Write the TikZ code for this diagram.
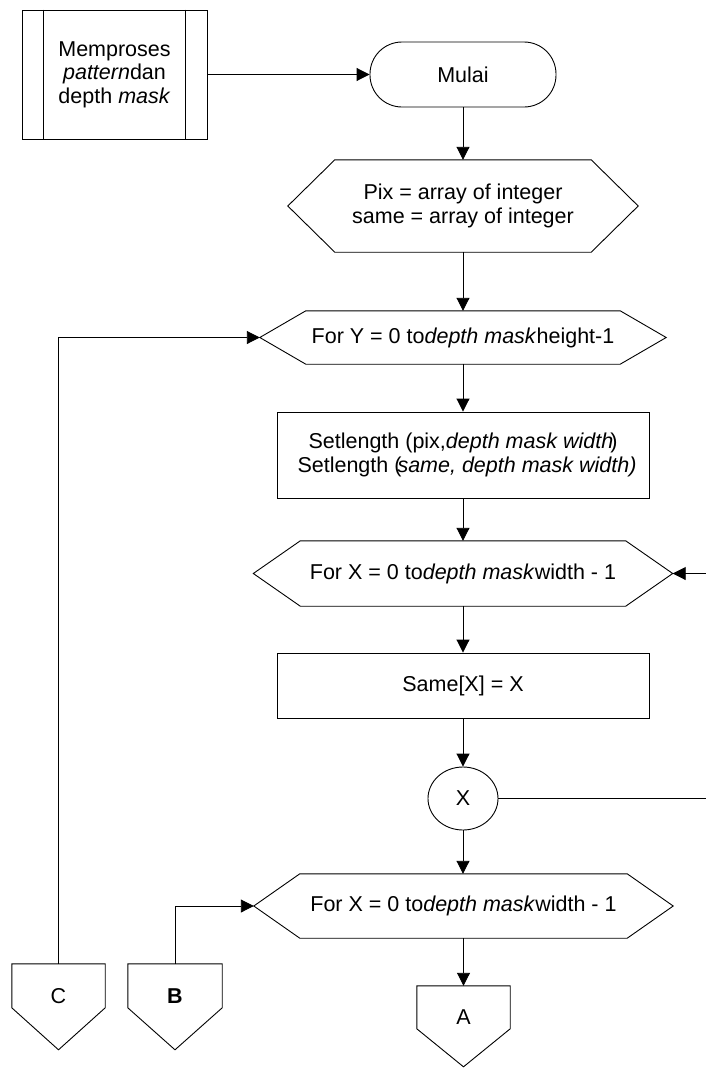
\documentclass[tikz,border=0pt]{standalone}
\usepackage{fontspec}
\setmainfont{Liberation Sans}
\usetikzlibrary{arrows.meta,shapes.geometric}

% hexagon outline (preparation / loop symbol) around a rectangular node
\newcommand{\hexout}[2]{%
  \draw[outline] (#1.west) -- ([xshift=#2pt]#1.north west) -- ([xshift=-#2pt]#1.north east)
    -- (#1.east) -- ([xshift=-#2pt]#1.south east) -- ([xshift=#2pt]#1.south west) -- cycle;}
% off-page connector outline: shoulder and point depth below the node top
\newcommand{\offpage}[3]{%
  \draw[outline] (#1.north west) -- (#1.north east) -- ([yshift=-#2pt]#1.north east)
    -- ([yshift=-#3pt]#1.north) -- ([yshift=-#2pt]#1.north west) -- cycle;}

\begin{document}
\begin{tikzpicture}[x=1pt,y=-1pt,
  every node/.style={font=\fontsize{21.5}{23.5}\selectfont, inner sep=0pt, align=center},
  outline/.style={draw=black, line width=0.9pt},
  flow/.style={draw=black, line width=0.9pt, -{Triangle[length=13pt,width=13pt]}},
  plain/.style={draw=black, line width=0.9pt},
  boxnode/.style={rectangle, outline},
]
\useasboundingbox (0,0) rectangle (706,1068);

% subprocess
\node[boxnode, minimum width=185pt, minimum height=129pt] (sub) at (114.5,74.5)
  {Memproses\\\textit{pattern}dan\\depth \textit{mask}};
\draw[outline] ([xshift=22pt]sub.north west) -- ([xshift=22pt]sub.south west);
\draw[outline] ([xshift=-22pt]sub.north east) -- ([xshift=-22pt]sub.south east);

% terminator
\node[rectangle, rounded corners=32pt, outline, minimum width=186pt, minimum height=65pt] (start) at (463,74.5) {Mulai};

% preparation
\node[rectangle, minimum width=350pt, minimum height=92pt] (prep) at (463,206)
  {Pix = array of integer\\same = array of integer};
\hexout{prep}{47}

% outer loop
\node[rectangle, minimum width=406pt, minimum height=53pt] (forY) at (463,337.5)
  {For Y = 0 to\textit{depth mask}height-1};
\hexout{forY}{46}

\node[boxnode, minimum width=372pt, minimum height=86pt] (setlen) at (463,455)
  {Setlength (pix,\textit{depth mask width}\kern-3pt)\\
   \hspace*{8pt}Setlength (\kern-4pt\textit{same, depth mask width)}};

% first inner loop
\node[rectangle, minimum width=419pt, minimum height=65pt] (forXa) at (463,573.5)
  {For X = 0 to\textit{depth mask}width - 1};
\hexout{forXa}{47}

\node[boxnode, minimum width=372pt, minimum height=65pt] (same) at (463,685.5) {Same[X] = X};

\node[ellipse, outline, minimum width=70pt, minimum height=63pt] (circ) at (463,798.5) {X};

% second inner loop
\node[rectangle, minimum width=419pt, minimum height=64pt] (forXb) at (463.5,906)
  {For X = 0 to\textit{depth mask}width - 1};
\hexout{forXb}{46}

% off-page connectors
\node[rectangle, minimum width=93pt, minimum height=64pt] (conC) at (58.5,996) {C};
\offpage{conC}{44}{86}
\node[rectangle, minimum width=94pt, minimum height=64pt] (conB) at (175,996) {\textbf{B}};
\offpage{conB}{44}{86}
\node[rectangle, minimum width=93pt, minimum height=62pt] (conA) at (463.5,1017) {A};
\offpage{conA}{43}{81}

\coordinate (loopin) at (708,573.5);
\coordinate (loopout) at (708,798.5);

% connectors
\draw[flow] (sub.east) -- (start.west);
\draw[flow] (start) -- (prep.north);
\draw[flow] (prep.south) -- (forY.north);
\draw[flow] (forY.south) -- (setlen.north);
\draw[flow] (setlen.south) -- (forXa.north);
\draw[flow] (forXa.south) -- (same.north);
\draw[flow] (same.south) -- (circ.north);
\draw[flow] (circ.south) -- (forXb.north -| circ.south);
\draw[flow] (forXb.south -| conA.north) -- (conA.north);
\draw[flow] (loopin) -- (forXa.east);
\draw[plain] (circ.east) -- (loopout);
\draw[flow] (conC.north) |- (forY.west);
\draw[flow] (conB.north) |- (forXb.west);
\end{tikzpicture}
\end{document}
